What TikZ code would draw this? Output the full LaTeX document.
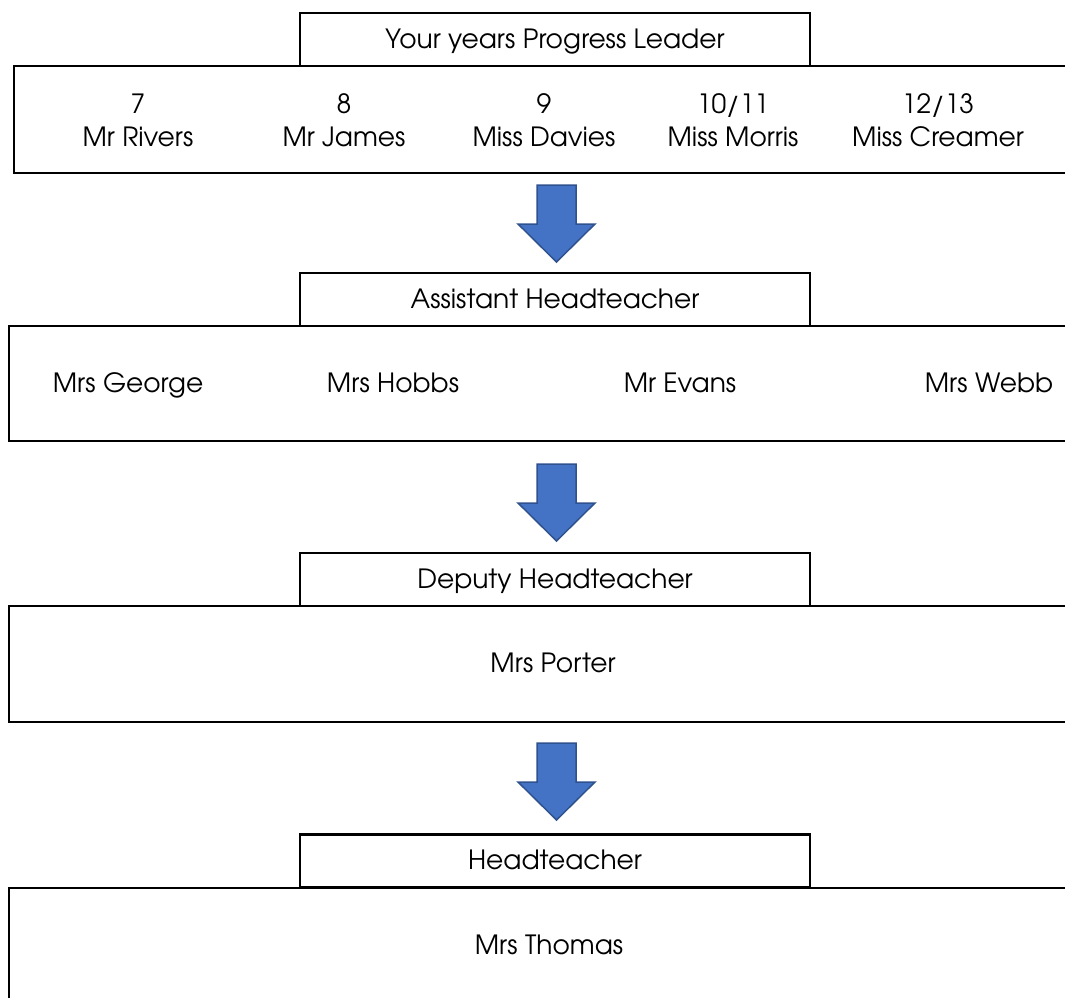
\documentclass[tikz,border=0pt]{standalone}
\usepackage{fontspec}
\setmainfont{TeX Gyre Adventor}
\usepackage{tikz}
\usetikzlibrary{positioning,calc}
\definecolor{arrowblue}{HTML}{4472C4}
\definecolor{arrowedge}{HTML}{2F528F}
\tikzset{
  every node/.style={align=center,inner sep=0pt,font=\fontsize{26.5}{33}\selectfont},
  oneline/.style={text height=19pt,text depth=2pt},
  titlebox/.style={oneline,draw,line width=2.5pt,fill=white,minimum width=510pt,minimum height=53pt},
  listbox/.style={draw,line width=2.5pt,minimum width=1070pt},
  blockarrow/.style={fill=arrowblue,draw=arrowedge,line width=1.5pt,line join=miter},
}

\begin{document}
\begin{tikzpicture}[x=1pt,y=-1pt]
  \useasboundingbox (0,0) rectangle (1065,997);
  \clip (0,0) rectangle (1065,997);
  % big boxes first, title boxes on top
  \node [listbox,minimum height=107pt] (b1) at (549,119.5) {};
  \node [listbox,minimum height=115pt] (b2) at (544,383.5) {};
  \node [listbox,minimum height=116pt] (b3) at (544,664) {};
  \node [listbox,minimum height=130pt] (b4) at (544,953) {};
  \node [titlebox] (t1) at (555,39.5) {Your years Progress Leader};
  \node [titlebox] (t2) at (555,299.5) {Assistant Headteacher};
  \node [titlebox] (t3) at (555,579.5) {Deputy Headteacher};
  \node [titlebox] (t4) at (555,861) {Headteacher};
  % year leaders
  \node (y7) at (138,120) {7\\Mr Rivers};
  \node (y8) at (344,120) {8\\Mr James};
  \node (y9) at (544,120) {9\\Miss Davies};
  \node (y10) at (733,120) {10/11\\Miss Morris};
  \node (y12) at (938,120) {12/13\\Miss Creamer};
  % assistant heads
  \node [oneline] (ah1) at (128,383.5) {Mrs George};
  \node [oneline] (ah2) at (393,383.5) {Mrs Hobbs};
  \node [oneline] (ah3) at (680,383.5) {Mr Evans};
  \node [oneline] (ah4) at (989,383.5) {Mrs Webb};
  \node [oneline] (dh) at (553,664) {Mrs Porter};
  \node [oneline] (hd) at (549,946) {Mrs Thomas};
  % arrows between the blocks
  \foreach \top/\name in {185/a1,464/a2,743/a3}{
    \coordinate (\name) at (556.5,\top);
    \draw [blockarrow] (\name) ++(-19.5,0) -- ++(39,0) -- ++(0,39) -- ++(19,0)
      -- ++(-38.5,38) -- ++(-38.5,-38) -- ++(19,0) -- cycle;
  }
\end{tikzpicture}
\end{document}
